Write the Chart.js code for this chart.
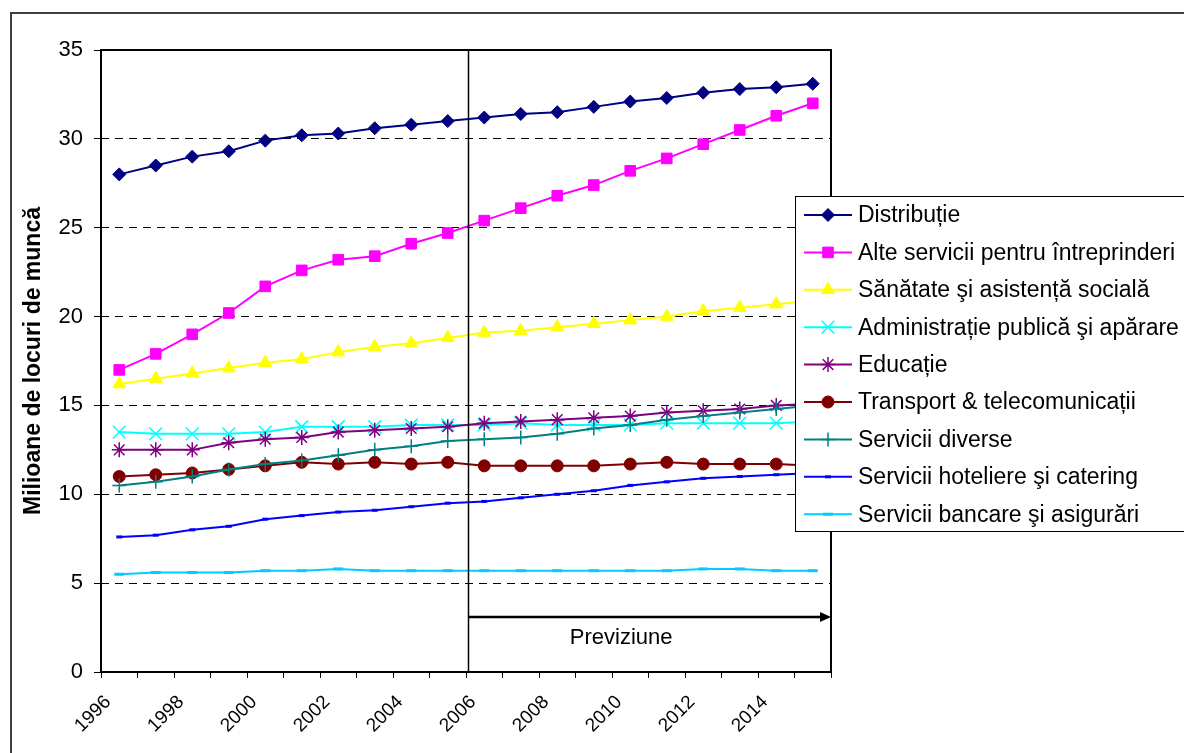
<!DOCTYPE html>
<html lang="ro">
<head>
<meta charset="UTF-8">
<title>Locuri de muncă pe sectoare 1996-2015</title>
<style>
    body {
        margin: 0;
        background: #fff;
    }
    #wrap {
        width: 1184px;
        height: 753px;
    }
</style>
</head>
<body>
<div id="wrap"><canvas id="chart" width="1184" height="753"></canvas></div>
<script src="https://cdn.jsdelivr.net/npm/chart.js"></script>
<script>
// years (points sit in the middle of each year)
const years = [1996, 1997, 1998, 1999, 2000, 2001, 2002, 2003, 2004, 2005,
               2006, 2007, 2008, 2009, 2010, 2011, 2012, 2013, 2014, 2015];
const xLabelYears = [1996, 1998, 2000, 2002, 2004, 2006, 2008, 2010, 2012, 2014];
const yTicks = [0, 5, 10, 15, 20, 25, 30, 35];

const distributie = [28.0, 28.5, 29.0, 29.3, 29.9, 30.2, 30.3, 30.6, 30.8, 31.0, 31.2, 31.4, 31.5, 31.8, 32.1, 32.3, 32.6, 32.8, 32.9, 33.1];
const alteServicii = [17.0, 17.9, 19.0, 20.2, 21.7, 22.6, 23.2, 23.4, 24.1, 24.7, 25.4, 26.1, 26.8, 27.4, 28.2, 28.9, 29.7, 30.5, 31.3, 32.0];
const sanatate = [16.2, 16.5, 16.8, 17.1, 17.4, 17.6, 18.0, 18.3, 18.5, 18.8, 19.1, 19.2, 19.4, 19.6, 19.8, 20.0, 20.3, 20.5, 20.7, 20.9];
const administratie = [13.5, 13.4, 13.4, 13.4, 13.5, 13.8, 13.8, 13.8, 13.9, 13.9, 13.9, 14.0, 13.9, 13.9, 13.9, 14.0, 14.0, 14.0, 14.0, 14.1];
const educatie = [12.5, 12.5, 12.5, 12.9, 13.1, 13.2, 13.5, 13.6, 13.7, 13.8, 14.0, 14.1, 14.2, 14.3, 14.4, 14.6, 14.7, 14.8, 15.0, 15.1];
const transport = [11.0, 11.1, 11.2, 11.4, 11.6, 11.8, 11.7, 11.8, 11.7, 11.8, 11.6, 11.6, 11.6, 11.6, 11.7, 11.8, 11.7, 11.7, 11.7, 11.6];
const diverse = [10.5, 10.7, 11.0, 11.4, 11.7, 11.9, 12.2, 12.5, 12.7, 13.0, 13.1, 13.2, 13.4, 13.7, 13.9, 14.2, 14.4, 14.6, 14.8, 15.0];
const hoteliere = [7.6, 7.7, 8.0, 8.2, 8.6, 8.8, 9.0, 9.1, 9.3, 9.5, 9.6, 9.8, 10.0, 10.2, 10.5, 10.7, 10.9, 11.0, 11.1, 11.2];
const bancare = [5.5, 5.6, 5.6, 5.6, 5.7, 5.7, 5.8, 5.7, 5.7, 5.7, 5.7, 5.7, 5.7, 5.7, 5.7, 5.7, 5.8, 5.8, 5.7, 5.7];

const seriesNames = [
    'Distribuție',
    'Alte servicii pentru întreprinderi',
    'Sănătate şi asistență socială',
    'Administrație publică şi apărare',
    'Educație',
    'Transport & telecomunicații',
    'Servicii diverse',
    'Servicii hoteliere şi catering',
    'Servicii bancare şi asigurări'
];
const seriesValues = [distributie, alteServicii, sanatate, administratie, educatie,
                      transport, diverse, hoteliere, bancare];

const forecastStart = 2006;
const forecastLabel = 'Previziune';
const yTitle = 'Milioane de locuri de muncă';

const styles = [
    { color: '#000080', point: 'rectRot', r: 6.5, bw: 1 },
    { color: '#ff00ff', point: 'rect', r: 7.5, bw: 1 },
    { color: '#ffff00', point: 'triangle', r: 7.5, bw: 1 },
    { color: '#00ffff', point: 'crossRot', r: 9, bw: 1.5 },
    { color: '#800080', point: 'star', r: 7.5, bw: 1.5 },
    { color: '#800000', point: 'circle', r: 6, bw: 1 },
    { color: '#008080', point: 'cross', r: 7, bw: 1.5 },
    { color: '#0000ff', point: 'line', r: 3, bw: 3 },
    { color: '#00ccff', point: 'line', r: 5, bw: 3 }
];

const FONT = 'Arial, "Liberation Sans", sans-serif';
Chart.defaults.font.family = FONT;
Chart.defaults.color = '#000';

const datasets = seriesValues.map((vals, i) => ({
    label: seriesNames[i],
    data: vals.map((v, j) => ({ x: years[j] + 0.5, y: v })),
    borderColor: styles[i].color,
    backgroundColor: styles[i].color,
    borderWidth: 2,
    pointStyle: styles[i].point,
    pointRadius: styles[i].r,
    pointBorderWidth: styles[i].bw,
    pointBackgroundColor: styles[i].color,
    pointBorderColor: styles[i].color,
    order: seriesValues.length - 1 - i,
    tension: 0
}));

// frame, forecast marker and legend box drawn on top
const overlay = {
    id: 'overlay',
    beforeDraw(chart) {
        const ctx = chart.ctx;
        ctx.save();
        ctx.fillStyle = '#fff';
        ctx.fillRect(0, 0, chart.width, chart.height);
        ctx.strokeStyle = '#404040';
        ctx.lineWidth = 2;
        ctx.beginPath();
        ctx.moveTo(11, chart.height + 5);
        ctx.lineTo(11, 13);
        ctx.lineTo(chart.width + 5, 13);
        ctx.stroke();
        ctx.restore();
    },
    afterDraw(chart) {
        const { ctx, chartArea: a, scales: { x, y } } = chart;
        ctx.save();

        // plot area border
        ctx.strokeStyle = '#000';
        ctx.lineWidth = 2;
        ctx.strokeRect(a.left, a.top, a.right - a.left, a.bottom - a.top);

        // forecast divider
        const xs = Math.round(x.getPixelForValue(forecastStart)) + 2.5;
        ctx.lineWidth = 1.5;
        ctx.beginPath();
        ctx.moveTo(xs, a.top);
        ctx.lineTo(xs, a.bottom);
        ctx.stroke();

        // arrow
        const ya = Math.round(y.getPixelForValue(3.1));
        ctx.lineWidth = 2.5;
        ctx.beginPath();
        ctx.moveTo(xs, ya);
        ctx.lineTo(a.right - 8, ya);
        ctx.stroke();
        ctx.fillStyle = '#000';
        ctx.beginPath();
        ctx.moveTo(a.right, ya);
        ctx.lineTo(a.right - 11, ya - 5);
        ctx.lineTo(a.right - 11, ya + 5);
        ctx.closePath();
        ctx.fill();

        ctx.font = '22px ' + FONT;
        ctx.textAlign = 'center';
        ctx.textBaseline = 'middle';
        ctx.fillText(forecastLabel, x.getPixelForValue(2010.25), y.getPixelForValue(1.9));

        // legend
        const lx = 795.5, ly = 196.5, lh = 335;
        ctx.fillStyle = '#fff';
        ctx.fillRect(lx, ly, 420, lh);
        ctx.strokeStyle = '#000';
        ctx.lineWidth = 1;
        ctx.strokeRect(lx, ly, 420, lh);
        ctx.textAlign = 'left';
        seriesNames.forEach((name, i) => {
            const s = styles[i];
            const cy = 215 + i * 37.4;
            ctx.strokeStyle = s.color;
            ctx.fillStyle = s.color;
            ctx.lineWidth = 2;
            ctx.beginPath();
            ctx.moveTo(804, cy);
            ctx.lineTo(852, cy);
            ctx.stroke();
            ctx.lineWidth = s.bw;
            Chart.helpers.drawPoint(ctx, { pointStyle: s.point, radius: s.r, rotation: 0, borderWidth: s.bw }, 828, cy);
            ctx.fillStyle = '#000';
            ctx.font = '23px ' + FONT;
            ctx.fillText(name, 858, cy + 1);
        });
        ctx.restore();
    }
};

new Chart(document.getElementById('chart'), {
    type: 'line',
    data: { datasets },
    options: {
        responsive: false,
        animation: false,
        devicePixelRatio: 1,
        layout: { padding: { top: 50, right: 353, left: 0, bottom: 0 } },
        plugins: {
            legend: { display: false },
            tooltip: { enabled: false }
        },
        scales: {
            x: {
                type: 'linear',
                min: 1996,
                max: 2016,
                afterFit: s => { s.height = 81; },
                afterBuildTicks: s => {
                    s.ticks = years.concat([2016]).map(v => ({ value: v }));
                },
                ticks: {
                    autoSkip: false,
                    maxRotation: 45,
                    minRotation: 45,
                    padding: 13,
                    labelOffset: 7,
                    font: { size: 19 },
                    callback: v => xLabelYears.includes(v) ? String(v) : ''
                },
                grid: {
                    drawOnChartArea: false,
                    drawTicks: true,
                    tickLength: 6,
                    tickColor: '#000',
                    lineWidth: 1
                },
                border: { display: false }
            },
            y: {
                min: 0,
                max: 35,
                afterFit: s => { s.width = 101; },
                afterBuildTicks: s => {
                    s.ticks = yTicks.map(v => ({ value: v }));
                },
                ticks: {
                    padding: 11,
                    font: { size: 22 }
                },
                title: {
                    display: true,
                    text: yTitle,
                    font: { size: 23, weight: 'bold' },
                    padding: { top: 20, bottom: 0 }
                },
                grid: {
                    color: c => (c.tick && c.tick.value > 0 && c.tick.value < 35) ? '#000' : 'rgba(0,0,0,0)',
                    lineWidth: 1,
                    tickLength: 7,
                    tickColor: '#000',
                    tickBorderDash: []
                },
                border: { display: false, dash: [8, 6] }
            }
        }
    },
    plugins: [overlay]
});
</script>
</body>
</html>
